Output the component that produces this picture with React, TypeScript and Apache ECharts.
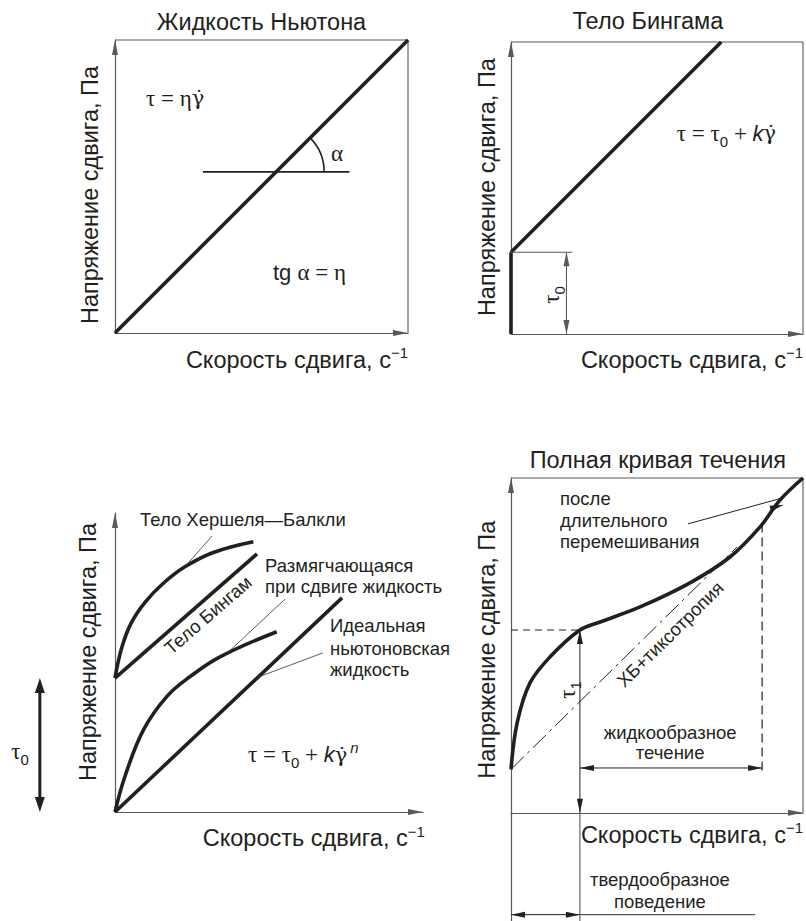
import React, { useEffect, useRef } from "react";
import * as echarts from "echarts";

const SANS = "'Liberation Sans', Arial, Helvetica, sans-serif";
const SERIF = "'Liberation Serif', 'Times New Roman', serif";
const DOTTED = "'DejaVu Serif', 'Liberation Serif', serif";
const INK = "#231f20";
const AXIS = "#58595b";

type Pt = [number, number];

// Plot boxes for the four diagrams (pixels) and the lower bound of each stress axis
const GRIDS = [
  { left: 115, top: 40, width: 293, height: 293 },
  { left: 511, top: 42, width: 292, height: 292 },
  { left: 115, top: 513, width: 308, height: 299 },
  { left: 511, top: 478, width: 292, height: 443 },
];
const STRESS_MIN = [0, 0, 0, -32.3];

// Captions
const titles = ["Жидкость Ньютона", "Тело Бингама", "", "Полная кривая течения"];
const stressCaption = "Напряжение сдвига, Па";
const rateCaption = "Скорость сдвига, с";
const rateUnitPower = "−1";

// 1. Newtonian fluid
const newtonLine: Pt[] = [[0, 0], [100, 100]];
const slopeBase: Pt[] = [[30, 55], [80, 55]];
const slopeVertex: Pt = [55, 55];

// 2. Bingham body
const binghamYield = 28;
const binghamRest: Pt[] = [[0, 0], [0, binghamYield]];
const binghamFlow: Pt[] = [[0, binghamYield], [72, 100]];
const yieldLevel: Pt[] = [[0, binghamYield], [21, binghamYield]];
const yieldArrowX = 19;

// 3. Family of flow curves
const tau0 = 44.8;
const herschelBulkley: Pt[] = [[0, tau0], [2.2, 55], [5.2, 63.1], [9.8, 70.2], [15.7, 76.5], [22.7, 82.0], [31.9, 86.8], [44.9, 90.4]];
const binghamBody: Pt[] = [[0, tau0], [46.1, 86.3]];
const shearThinning: Pt[] = [[0, 0], [3.2, 11.8], [9.2, 27.4], [16.8, 38.6], [24.4, 45.3], [34.1, 51.9], [52.5, 60.3]];
const idealNewtonian: Pt[] = [[0, 0], [73.7, 71.6]];
const hbLeader: Pt[] = [[31.5, 92.3], [22.7, 82.0]];
const thinningLeader: Pt[] = [[55.2, 71.2], [36.5, 53.2]];
const newtonianLeader: Pt[] = [[67.5, 53.2], [46.4, 45.1]];
const tau0ArrowX = -24.4;

// 4. Complete flow curve
const flowCurve: Pt[] = [[0, 13], [2.1, 26.9], [6.5, 38.8], [13.4, 46.6], [23.6, 54.6], [30.5, 57.0], [44.2, 61.5], [61.3, 68.7], [75, 76.4], [85.3, 85.4], [92.1, 93.4], [100, 100]];
const tau1: Pt = [23.6, 54.6];
const hbThixotropy: Pt[] = [[0, 13], [77.4, 79.4]];
const liquidEdgeX = 86;
const liquidEdge: Pt[] = [[liquidEdgeX, 86.4], [liquidEdgeX, 11.3]];
const liquidSpanY = 13.4;
const solidSpanY = -30.4;
const solidSpanTail = 83.6;
const mixingPointer: Pt[] = [[60.6, 86.3], [92.8, 94.0]];
const frame: Pt[] = [[0, 100], [100, 100], [100, 0]];

const line = (g: number, data: any[], o: any = {}) => ({
  type: "line",
  xAxisIndex: g,
  yAxisIndex: g,
  data,
  symbol: "none",
  clip: false,
  silent: true,
  smooth: o.smooth ?? false,
  z: o.z ?? 3,
  lineStyle: { color: o.color ?? INK, width: o.width ?? 1, type: o.type ?? "solid" },
  itemStyle: { color: o.color ?? INK, borderWidth: 0 },
  emphasis: { disabled: true },
  markLine: o.markLine,
});

const ROT: Record<string, number> = { up: 0, down: 180, left: 90, right: -90 };
const head = (p: Pt, dir: string, size: [number, number] = [6, 14]) => {
  const h = size[1] / 2;
  const off: Record<string, number[]> = { up: [0, h], down: [0, -h], left: [h, 0], right: [-h, 0] };
  return { value: p, symbol: "triangle", symbolSize: size, symbolRotate: ROT[dir], symbolOffset: off[dir] };
};

function buildOption() {
  const axisLine = {
    show: true,
    onZero: true,
    symbol: ["none", "triangle"],
    symbolSize: [6, 15],
    symbolOffset: [0, -7.5],
    lineStyle: { color: AXIS, width: 1.2 },
  };
  const hidden = { axisTick: { show: false }, axisLabel: { show: false }, splitLine: { show: false } };
  const thick = { width: 3.6 };
  const thin = { width: 1.1, color: AXIS };
  const leader = { width: 0.8, color: "#333" };
  return {
    animation: false,
    backgroundColor: "#fff",
    grid: GRIDS.map((g) => ({ ...g, show: false })),
    xAxis: GRIDS.map((_, i) => ({ gridIndex: i, type: "value", min: 0, max: 100, axisLine, ...hidden })),
    yAxis: GRIDS.map((_, i) => ({ gridIndex: i, type: "value", min: STRESS_MIN[i], max: 100, axisLine, ...hidden })),
    series: [
      // Newtonian fluid
      line(0, frame, thin),
      line(0, newtonLine, thick),
      line(0, slopeBase, { width: 1.8 }),
      // Bingham body
      line(1, frame, thin),
      line(1, binghamRest, thick),
      line(1, binghamFlow, thick),
      line(1, yieldLevel, thin),
      line(1, [head([yieldArrowX, binghamYield], "up"), head([yieldArrowX, 0], "down")], thin),
      // Family of curves
      line(2, herschelBulkley, { ...thick, smooth: 0.4 }),
      line(2, binghamBody, thick),
      line(2, shearThinning, { ...thick, smooth: 0.4 }),
      line(2, idealNewtonian, thick),
      line(2, hbLeader, leader),
      line(2, thinningLeader, leader),
      line(2, newtonianLeader, leader),
      line(2, [head([tau0ArrowX, tau0], "up", [10, 15]), head([tau0ArrowX, 0], "down", [10, 15])], { width: 3 }),
      // Complete flow curve
      line(3, frame, thin),
      line(3, flowCurve, {
        ...thick,
        smooth: 0.35,
        markLine: {
          silent: true,
          symbol: ["none", "triangle"],
          symbolSize: [6, 14],
          symbolOffset: [0, 7],
          label: { show: false },
          lineStyle: { color: INK, width: 1, type: "solid" },
          data: [[{ coord: mixingPointer[0] }, { coord: mixingPointer[1] }]],
        },
      }),
      line(3, hbThixotropy, { width: 1, color: INK, type: [18, 5, 3, 5] }),
      line(3, [[0, tau1[1]], tau1], { width: 1, color: INK, type: [7, 5] }),
      line(3, liquidEdge, { width: 1.2, color: INK, type: [9, 5] }),
      line(3, [head(tau1, "up"), head([tau1[0], 0], "down")], { width: 1, color: INK }),
      line(3, [[tau1[0], 0], [tau1[0], STRESS_MIN[3]]], thin),
      line(3, [head([tau1[0], liquidSpanY], "left"), head([liquidEdgeX, liquidSpanY], "right")], { width: 1, color: INK }),
      line(3, [head([0, solidSpanY], "left"), head([tau1[0], solidSpanY], "right")], { width: 1, color: INK }),
      line(3, [[tau1[0], solidSpanY], [solidSpanTail, solidSpanY]], thin),
    ],
  };
}

const RICH: any = {
  a: { fontFamily: SANS, fontSize: 23.5 },
  sa: { fontFamily: SANS, fontSize: 15, padding: [0, 0, 14, 0] },
  m: { fontFamily: SANS, fontSize: 18.5 },
  f: { fontFamily: SERIF, fontSize: 23 },
  g: { fontFamily: DOTTED, fontSize: 21 },
  fs: { fontFamily: SANS, fontSize: 22 },
  k: { fontFamily: SANS, fontSize: 22, fontStyle: "italic" },
  sub: { fontFamily: SANS, fontSize: 15, padding: [16, 0, 0, 0] },
  supn: { fontFamily: SANS, fontSize: 15, fontStyle: "italic", padding: [0, 0, 14, 3] },
};

type Note = { g: number; at: Pt; text: string; align?: string; rot?: number };

const axisCaption = `{a|${rateCaption}}{sa|${rateUnitPower}}`;
const notes: Note[] = [
  // Newtonian fluid
  { g: 0, at: [50, 106.1], text: `{a|${titles[0]}}`, align: "center" },
  { g: 0, at: [-8.5, 47.1], text: `{a|${stressCaption}}`, align: "center", rot: 90 },
  { g: 0, at: [100, -9.2], text: axisCaption, align: "right" },
  { g: 0, at: [10.6, 80.2], text: "{f|τ = η}{g|γ̇}", align: "left" },
  { g: 0, at: [75.8, 61.4], text: "{f|α}", align: "center" },
  { g: 0, at: [53.9, 20.5], text: "{fs|tg }{f|α = η}", align: "left" },
  // Bingham body
  { g: 1, at: [46.9, 107.2], text: `{a|${titles[1]}}`, align: "center" },
  { g: 1, at: [-8.2, 50.3], text: `{a|${stressCaption}}`, align: "center", rot: 90 },
  { g: 1, at: [100, -8.9], text: axisCaption, align: "right" },
  { g: 1, at: [56.8, 68.8], text: "{f|τ = τ}{sub|0}{f| + }{k|k}{g|γ̇}", align: "left" },
  { g: 1, at: [14, 13.4], text: "{f|τ}{sub|0}", align: "center", rot: 90 },
  // Family of curves
  { g: 2, at: [-8.8, 53.5], text: `{a|${stressCaption}}`, align: "center", rot: 90 },
  { g: 2, at: [100.6, -8.7], text: axisCaption, align: "right" },
  { g: 2, at: [8.1, 97.7], text: "{m|Тело Хершеля—Балкли}", align: "left" },
  { g: 2, at: [30.2, 65.9], text: "{m|Тело Бингам}", align: "center", rot: 41 },
  { g: 2, at: [48.7, 82.6], text: "{m|Размягчающаяся}", align: "left" },
  { g: 2, at: [48.7, 75.3], text: "{m|при сдвиге жидкость}", align: "left" },
  { g: 2, at: [69.8, 62.5], text: "{m|Идеальная}", align: "left" },
  { g: 2, at: [69.8, 54.8], text: "{m|ньютоновская}", align: "left" },
  { g: 2, at: [69.8, 47.8], text: "{m|жидкость}", align: "left" },
  { g: 2, at: [43.2, 19.1], text: "{f|τ = τ}{sub|0}{f| + }{k|k}{g|γ̇}{supn|n}", align: "left" },
  { g: 2, at: [-30.8, 20.1], text: "{f|τ}{sub|0}", align: "center" },
  // Complete flow curve
  { g: 3, at: [50.3, 105.4], text: `{a|${titles[3]}}`, align: "center" },
  { g: 3, at: [-8.2, 48.7], text: `{a|${stressCaption}}`, align: "center", rot: 90 },
  { g: 3, at: [100, -6.6], text: axisCaption, align: "right" },
  { g: 3, at: [16.8, 94.0], text: "{m|после}", align: "left" },
  { g: 3, at: [16.8, 87.2], text: "{m|длительного}", align: "left" },
  { g: 3, at: [16.8, 80.9], text: "{m|перемешивания}", align: "left" },
  { g: 3, at: [54.5, 53.4], text: "{m|ХБ+тиксотропия}", align: "center", rot: 44.6 },
  { g: 3, at: [19.2, 36.7], text: "{f|τ}{sub|1}", align: "center", rot: 90 },
  { g: 3, at: [54.5, 23.9], text: "{m|жидкообразное}", align: "center" },
  { g: 3, at: [54.5, 17.9], text: "{m|течение}", align: "center" },
  { g: 3, at: [51, -20], text: "{m|твердообразное}", align: "center" },
  { g: 3, at: [51, -26.6], text: "{m|поведение}", align: "center" },
];

function buildGraphics(at: (g: number, p: Pt) => number[]) {
  const els: any[] = notes.map((n) => {
    const [x, y] = at(n.g, n.at);
    return {
      type: "text",
      x,
      y,
      rotation: ((n.rot ?? 0) * Math.PI) / 180,
      silent: true,
      style: {
        text: n.text,
        rich: RICH,
        fill: INK,
        align: n.align ?? "left",
        textAlign: n.align ?? "left",
        verticalAlign: "middle",
        textVerticalAlign: "middle",
      },
    };
  });
  // Angle mark between the tangent base and the Newtonian line
  const [cx, cy] = at(0, slopeVertex);
  els.push({
    type: "arc",
    silent: true,
    shape: { cx, cy, r: 48, startAngle: -Math.PI / 4, endAngle: 0, clockwise: true },
    style: { stroke: INK, lineWidth: 1.6, fill: "none" },
  });
  // Shaft of the yield-stress arrow left of the family of curves
  const [x1, y1] = at(2, [tau0ArrowX, tau0]);
  const [x2, y2] = at(2, [tau0ArrowX, 0]);
  els.push({
    type: "line",
    silent: true,
    shape: { x1, y1: y1 + 8, x2, y2: y2 - 8 },
    style: { stroke: INK, lineWidth: 3 },
  });
  return els;
}

export default function App() {
  const ref = useRef<HTMLDivElement>(null);
  useEffect(() => {
    const el = ref.current;
    if (!el) return;
    const chart = echarts.init(el, undefined, { renderer: "svg" });
    chart.setOption(buildOption() as any);
    const at = (g: number, p: Pt) => chart.convertToPixel({ gridIndex: g } as any, p) as number[];
    chart.setOption({ graphic: buildGraphics(at) } as any);
    return () => chart.dispose();
  }, []);
  return (
    <div
      ref={ref}
      style={{ position: "fixed", left: 0, top: 0, width: 806, height: 921, background: "#fff" }}
    />
  );
}
